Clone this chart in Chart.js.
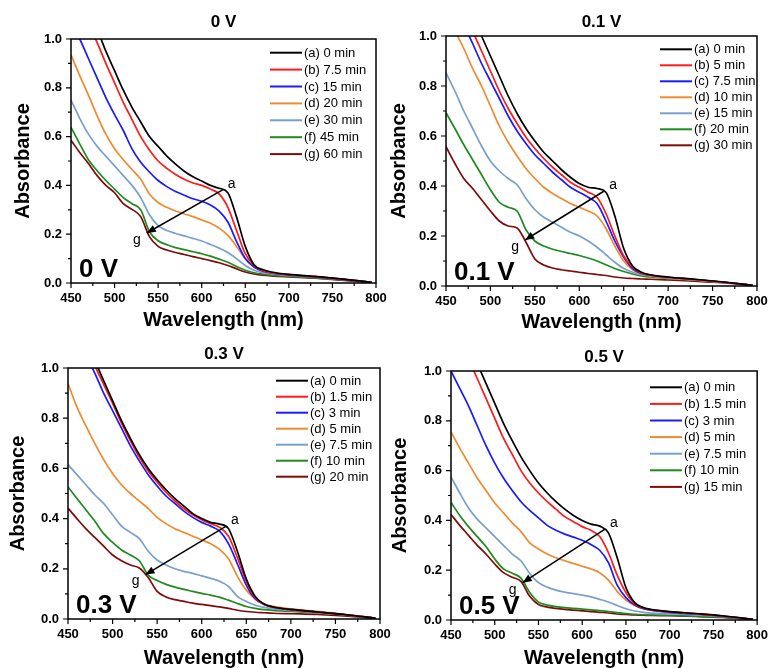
<!DOCTYPE html>
<html>
<head>
<meta charset="utf-8">
<script src="https://cdn.jsdelivr.net/npm/chart.js@4.4.1/dist/chart.umd.min.js"></script>
<style>
  html, body { margin: 0; padding: 0; background: #fff; width: 771px; height: 668px; overflow: hidden; }
  canvas { position: absolute; }
</style>
</head>
<body>
<canvas id="c0"></canvas>
<canvas id="c1"></canvas>
<canvas id="c2"></canvas>
<canvas id="c3"></canvas>
<script>
// Wavelength grid (nm) shared by every spectrum
const wavelength = [450,460,470,480,490,500,510,520,530,540,550,560,570,580,590,600,610,620,630,640,650,660,670,680,700,730,760,795];

const panelTitles = ['0 V', '0.1 V', '0.3 V', '0.5 V'];
const legend0V  = ['(a) 0 min','(b) 7.5 min','(c) 15 min','(d) 20 min','(e) 30 min','(f) 45 min','(g) 60 min'];
const legend01V = ['(a) 0 min','(b) 5 min','(c) 7.5 min','(d) 10 min','(e) 15 min','(f) 20 min','(g) 30 min'];
const legend03V = ['(a) 0 min','(b) 1.5 min','(c) 3 min','(d) 5 min','(e) 7.5 min','(f) 10 min','(g) 20 min'];
const legend05V = ['(a) 0 min','(b) 1.5 min','(c) 3 min','(d) 5 min','(e) 7.5 min','(f) 10 min','(g) 15 min'];

const xTickValues = [450,500,550,600,650,700,750,800];
const yTickValues = [0.0,0.2,0.4,0.6,0.8,1.0];

// Absorbance spectra, 0 V
const abs0V_a = [1.25,1.18,1.11,1.04,0.95,0.87,0.79,0.72,0.66,0.60,0.56,0.52,0.487,0.458,0.435,0.418,0.40,0.388,0.37,0.27,0.15,0.075,0.055,0.045,0.035,0.027,0.017,0.003];
const abs0V_b = [1.20,1.13,1.06,0.985,0.90,0.82,0.74,0.67,0.60,0.545,0.50,0.47,0.445,0.425,0.41,0.40,0.385,0.365,0.31,0.215,0.12,0.072,0.05,0.042,0.034,0.026,0.016,0.003];
const abs0V_c = [1.06,1.00,0.92,0.84,0.76,0.69,0.625,0.55,0.495,0.455,0.42,0.395,0.375,0.36,0.345,0.335,0.32,0.295,0.25,0.17,0.10,0.065,0.048,0.041,0.033,0.025,0.015,0.003];
const abs0V_d = [0.935,0.85,0.77,0.685,0.61,0.55,0.505,0.465,0.425,0.365,0.33,0.31,0.295,0.283,0.272,0.258,0.245,0.225,0.195,0.15,0.10,0.068,0.05,0.043,0.034,0.026,0.016,0.003];
const abs0V_e = [0.75,0.675,0.61,0.56,0.52,0.48,0.44,0.40,0.35,0.28,0.235,0.215,0.203,0.193,0.183,0.172,0.158,0.143,0.125,0.10,0.072,0.052,0.042,0.037,0.031,0.024,0.015,0.003];
const abs0V_f = [0.638,0.57,0.505,0.46,0.42,0.385,0.35,0.325,0.30,0.21,0.173,0.157,0.145,0.137,0.128,0.12,0.11,0.098,0.085,0.068,0.052,0.042,0.036,0.032,0.027,0.021,0.013,0.003];
const abs0V_g = [0.585,0.535,0.49,0.44,0.40,0.37,0.325,0.302,0.272,0.19,0.15,0.135,0.125,0.117,0.108,0.10,0.092,0.083,0.072,0.058,0.045,0.037,0.032,0.029,0.025,0.02,0.012,0.003];

// Absorbance spectra, 0.1 V
const abs01V_a = [1.35,1.25,1.16,1.08,1.00,0.92,0.84,0.76,0.69,0.63,0.58,0.535,0.50,0.465,0.435,0.41,0.395,0.39,0.375,0.28,0.15,0.08,0.055,0.045,0.036,0.027,0.017,0.003];
const abs01V_b = [1.30,1.20,1.11,1.02,0.94,0.86,0.78,0.71,0.65,0.595,0.55,0.51,0.475,0.445,0.415,0.395,0.375,0.355,0.29,0.20,0.12,0.075,0.052,0.044,0.035,0.026,0.016,0.003];
const abs01V_c = [1.25,1.15,1.05,0.97,0.89,0.82,0.75,0.68,0.62,0.57,0.525,0.49,0.455,0.425,0.395,0.375,0.355,0.33,0.26,0.18,0.115,0.07,0.05,0.043,0.034,0.026,0.016,0.003];
const abs01V_d = [1.08,1.02,0.95,0.87,0.80,0.72,0.64,0.575,0.52,0.47,0.43,0.395,0.37,0.35,0.33,0.315,0.30,0.28,0.23,0.16,0.10,0.065,0.048,0.041,0.033,0.025,0.016,0.003];
const abs01V_e = [0.853,0.78,0.70,0.63,0.56,0.50,0.46,0.43,0.405,0.35,0.305,0.275,0.255,0.235,0.215,0.20,0.18,0.155,0.125,0.095,0.07,0.055,0.045,0.04,0.032,0.024,0.015,0.003];
const abs01V_f = [0.693,0.63,0.565,0.505,0.445,0.385,0.335,0.315,0.30,0.225,0.18,0.16,0.147,0.138,0.13,0.122,0.112,0.10,0.085,0.07,0.058,0.048,0.04,0.036,0.03,0.023,0.015,0.003];
const abs01V_g = [0.557,0.49,0.43,0.39,0.345,0.30,0.26,0.24,0.232,0.175,0.108,0.084,0.072,0.065,0.06,0.055,0.05,0.046,0.042,0.036,0.032,0.03,0.028,0.027,0.024,0.019,0.013,0.003];

// Absorbance spectra, 0.3 V
const abs03V_a = [1.30,1.20,1.11,1.03,0.95,0.87,0.79,0.72,0.655,0.60,0.555,0.515,0.48,0.45,0.42,0.40,0.385,0.378,0.36,0.27,0.16,0.09,0.06,0.048,0.038,0.028,0.018,0.003];
const abs03V_b = [1.28,1.19,1.10,1.01,0.935,0.86,0.78,0.71,0.645,0.59,0.545,0.505,0.47,0.44,0.415,0.395,0.38,0.365,0.33,0.245,0.15,0.085,0.058,0.047,0.037,0.028,0.018,0.003];
const abs03V_c = [1.22,1.13,1.05,0.98,0.90,0.83,0.76,0.69,0.63,0.575,0.53,0.49,0.46,0.43,0.405,0.385,0.37,0.35,0.30,0.22,0.135,0.08,0.058,0.047,0.037,0.028,0.018,0.003];
const abs03V_d = [0.938,0.845,0.77,0.70,0.635,0.58,0.535,0.50,0.47,0.44,0.405,0.38,0.36,0.345,0.33,0.315,0.30,0.277,0.24,0.17,0.115,0.08,0.06,0.05,0.04,0.03,0.019,0.003];
const abs03V_e = [0.615,0.575,0.535,0.495,0.46,0.415,0.37,0.345,0.32,0.27,0.235,0.215,0.20,0.19,0.182,0.172,0.162,0.15,0.13,0.09,0.07,0.055,0.046,0.04,0.034,0.026,0.017,0.003];
const abs03V_f = [0.526,0.48,0.435,0.39,0.34,0.305,0.275,0.255,0.232,0.175,0.153,0.138,0.127,0.118,0.11,0.102,0.095,0.087,0.075,0.062,0.05,0.042,0.037,0.034,0.03,0.024,0.016,0.003];
const abs03V_g = [0.442,0.40,0.36,0.325,0.29,0.255,0.232,0.215,0.203,0.165,0.11,0.088,0.077,0.07,0.063,0.058,0.053,0.048,0.042,0.035,0.03,0.027,0.025,0.023,0.021,0.018,0.012,0.002];

// Absorbance spectra, 0.5 V
const abs05V_a = [1.30,1.20,1.11,1.03,0.95,0.87,0.79,0.72,0.655,0.60,0.55,0.51,0.475,0.445,0.42,0.40,0.385,0.377,0.35,0.25,0.13,0.07,0.05,0.042,0.034,0.026,0.017,0.003];
const abs05V_b = [1.22,1.13,1.05,0.97,0.89,0.81,0.73,0.665,0.60,0.55,0.51,0.475,0.445,0.415,0.395,0.375,0.36,0.335,0.27,0.18,0.11,0.065,0.048,0.041,0.033,0.025,0.016,0.003];
const abs05V_c = [1.00,0.93,0.86,0.78,0.70,0.63,0.57,0.52,0.475,0.44,0.41,0.38,0.36,0.345,0.333,0.32,0.303,0.28,0.23,0.14,0.09,0.06,0.045,0.039,0.031,0.024,0.015,0.003];
const abs05V_d = [0.755,0.69,0.63,0.57,0.52,0.47,0.43,0.39,0.355,0.31,0.285,0.265,0.25,0.238,0.227,0.216,0.205,0.19,0.16,0.115,0.08,0.058,0.045,0.04,0.033,0.026,0.017,0.003];
const abs05V_e = [0.575,0.51,0.45,0.405,0.37,0.335,0.30,0.265,0.237,0.187,0.15,0.132,0.12,0.112,0.106,0.10,0.093,0.083,0.072,0.058,0.045,0.036,0.031,0.028,0.025,0.02,0.014,0.002];
const abs05V_f = [0.472,0.42,0.375,0.335,0.295,0.245,0.205,0.188,0.168,0.11,0.072,0.06,0.054,0.05,0.047,0.044,0.041,0.038,0.034,0.03,0.026,0.023,0.021,0.02,0.019,0.015,0.011,0.002];
const abs05V_g = [0.424,0.38,0.34,0.30,0.265,0.225,0.19,0.172,0.155,0.095,0.062,0.052,0.047,0.043,0.04,0.037,0.034,0.031,0.028,0.024,0.022,0.02,0.019,0.018,0.017,0.014,0.01,0.002];

// Trend arrows: [wavelength, absorbance] of curve (a) shoulder -> curve (g)
const arrow0V  = [624, 0.382, 537, 0.205];
const arrow01V = [628, 0.380, 539, 0.184];
const arrow03V = [627, 0.369, 537, 0.177];
const arrow05V = [626, 0.365, 532, 0.150];

const seriesColors = ['#000000', '#ff1a1a', '#1a1aff', '#ee8a30', '#78a0cc', '#1f8a1f', '#800a0a'];
const FONT = '"Liberation Sans", Arial, Helvetica, sans-serif';

Chart.defaults.font.family = FONT;
Chart.defaults.color = '#000';

// Frame, tick marks, panel title, legend, arrow and the large voltage label
const decor = {
  id: 'decor',
  afterDatasetsDraw(chart, args, o) {
    const { ctx, chartArea: ca, scales: { x, y } } = chart;
    ctx.save();
    ctx.strokeStyle = '#000';
    ctx.fillStyle = '#000';

    ctx.lineWidth = 1.5;
    ctx.strokeRect(ca.left, ca.top, ca.right - ca.left, ca.bottom - ca.top);

    ctx.lineWidth = 1.2;
    ctx.beginPath();
    x.ticks.forEach(t => {
      const px = x.getPixelForValue(t.value);
      const len = xTickValues.includes(t.value) ? 5 : 3;
      ctx.moveTo(px, ca.bottom); ctx.lineTo(px, ca.bottom + len);
    });
    y.ticks.forEach(t => {
      const py = y.getPixelForValue(t.value);
      const len = Math.round(t.value * 10) % 2 === 0 ? 5 : 3;
      ctx.moveTo(ca.left, py); ctx.lineTo(ca.left - len, py);
    });
    ctx.stroke();

    // panel title
    ctx.font = 'bold 17px ' + FONT;
    ctx.textAlign = 'center';
    ctx.textBaseline = 'middle';
    ctx.fillText(o.title, (ca.left + ca.right) / 2, o.titleY);

    // legend
    ctx.font = '13px ' + FONT;
    ctx.textAlign = 'left';
    chart.data.datasets.forEach((ds, i) => {
      const ly = o.legend.y + i * o.legend.dy;
      ctx.strokeStyle = ds.borderColor;
      ctx.lineWidth = 2;
      ctx.beginPath();
      ctx.moveTo(o.legend.x, ly); ctx.lineTo(o.legend.x + 32, ly);
      ctx.stroke();
      ctx.fillText(ds.label, o.legend.x + 34, ly + 0.5);
    });

    // arrow from (a) to (g)
    const ax = x.getPixelForValue(o.arrow[0]), ay = y.getPixelForValue(o.arrow[1]);
    const gx = x.getPixelForValue(o.arrow[2]), gy = y.getPixelForValue(o.arrow[3]);
    ctx.strokeStyle = '#000';
    ctx.lineWidth = 1.5;
    ctx.beginPath();
    ctx.moveTo(ax, ay); ctx.lineTo(gx, gy);
    ctx.stroke();
    const ang = Math.atan2(gy - ay, gx - ax);
    const hl = 9, hw = 3.8;
    ctx.beginPath();
    ctx.moveTo(gx, gy);
    ctx.lineTo(gx - hl * Math.cos(ang) + hw * Math.sin(ang), gy - hl * Math.sin(ang) - hw * Math.cos(ang));
    ctx.lineTo(gx - hl * Math.cos(ang) - hw * Math.sin(ang), gy - hl * Math.sin(ang) + hw * Math.cos(ang));
    ctx.closePath();
    ctx.fill();

    ctx.font = '14px ' + FONT;
    ctx.textAlign = 'center';
    ctx.fillText('a', ax + 9, ay - 6);
    ctx.fillText('g', gx - 10, gy + 7);

    // large voltage label in the lower-left corner
    ctx.font = 'bold 26px ' + FONT;
    ctx.textAlign = 'left';
    ctx.textBaseline = 'alphabetic';
    ctx.fillText(o.title, ca.left + 8, ca.bottom - 6);

    ctx.restore();
  }
};

const panels = [
  { id: 'c0', left: 0,   top: 0,   w: 395, h: 335, plot: { l: 71, t: 39, r: 376, b: 283 }, titleY: 22, yTitleX: 23, xTitleY: 320,
    title: panelTitles[0], labels: legend0V, arrow: arrow0V, legend: { x: 270, y: 52.7, dy: 16.9 },
    series: [abs0V_a, abs0V_b, abs0V_c, abs0V_d, abs0V_e, abs0V_f, abs0V_g] },
  { id: 'c1', left: 385, top: 0,   w: 386, h: 337, plot: { l: 61, t: 36, r: 372, b: 286 }, titleY: 22, yTitleX: 14, xTitleY: 322,
    title: panelTitles[1], labels: legend01V, arrow: arrow01V, legend: { x: 275, y: 49.3, dy: 16.0 },
    series: [abs01V_a, abs01V_b, abs01V_c, abs01V_d, abs01V_e, abs01V_f, abs01V_g] },
  { id: 'c2', left: 0,   top: 330, w: 396, h: 338, plot: { l: 68, t: 38, r: 380, b: 289 }, titleY: 24, yTitleX: 18, xTitleY: 328,
    title: panelTitles[2], labels: legend03V, arrow: arrow03V, legend: { x: 276, y: 50.7, dy: 16.0 },
    series: [abs03V_a, abs03V_b, abs03V_c, abs03V_d, abs03V_e, abs03V_f, abs03V_g] },
  { id: 'c3', left: 385, top: 330, w: 386, h: 338, plot: { l: 66, t: 41, r: 374, b: 290 }, titleY: 27, yTitleX: 15, xTitleY: 328,
    title: panelTitles[3], labels: legend05V, arrow: arrow05V, legend: { x: 265, y: 57.3, dy: 16.6 },
    series: [abs05V_a, abs05V_b, abs05V_c, abs05V_d, abs05V_e, abs05V_f, abs05V_g] }
];

panels.forEach(p => {
  const canvas = document.getElementById(p.id);
  canvas.width = p.w;
  canvas.height = p.h;
  canvas.style.left = p.left + 'px';
  canvas.style.top = p.top + 'px';

  new Chart(canvas, {
    type: 'line',
    data: {
      datasets: p.series.map((vals, i) => ({
        label: p.labels[i],
        data: wavelength.map((w, k) => ({ x: w, y: vals[k] })),
        borderColor: seriesColors[i],
        borderWidth: 1.7,
        pointRadius: 0,
        cubicInterpolationMode: 'monotone',
        fill: false
      }))
    },
    options: {
      responsive: false,
      animation: false,
      devicePixelRatio: 1,
      events: [],
      layout: { padding: { top: p.plot.t, right: p.w - p.plot.r, left: 0, bottom: 0 } },
      scales: {
        x: {
          type: 'linear', min: 450, max: 800,
          afterFit: s => { s.height = p.h - p.plot.b; },
          ticks: {
            stepSize: 25, autoSkip: false, maxRotation: 0, minRotation: 0, padding: 3,
            font: { size: 13, weight: 'bold' }, color: '#000',
            callback: v => xTickValues.includes(v) ? String(v) : ''
          },
          grid: { display: true, drawOnChartArea: false, drawTicks: true, tickLength: 5, tickColor: 'rgba(0,0,0,0)' },
          border: { display: false },
          title: {
            display: true, text: 'Wavelength (nm)', color: '#000',
            font: { size: 20, weight: 'bold', lineHeight: 1 },
            padding: { top: 0, bottom: p.h - p.xTitleY - 10 }
          }
        },
        y: {
          type: 'linear', min: 0, max: 1,
          afterFit: s => { s.width = p.plot.l; },
          ticks: {
            stepSize: 0.1, autoSkip: false, padding: 4,
            font: { size: 13, weight: 'bold' }, color: '#000',
            callback: v => Math.round(v * 10) % 2 === 0 ? v.toFixed(1) : ''
          },
          grid: { display: true, drawOnChartArea: false, drawTicks: true, tickLength: 5, tickColor: 'rgba(0,0,0,0)' },
          border: { display: false },
          title: {
            display: true, text: 'Absorbance', color: '#000',
            font: { size: 20, weight: 'bold', lineHeight: 1 },
            padding: { top: p.yTitleX - 10, bottom: 0 }
          }
        }
      },
      plugins: {
        legend: { display: false },
        tooltip: { enabled: false },
        decor: { title: p.title, titleY: p.titleY, legend: p.legend, arrow: p.arrow }
      }
    },
    plugins: [decor]
  });
});
</script>
</body>
</html>
